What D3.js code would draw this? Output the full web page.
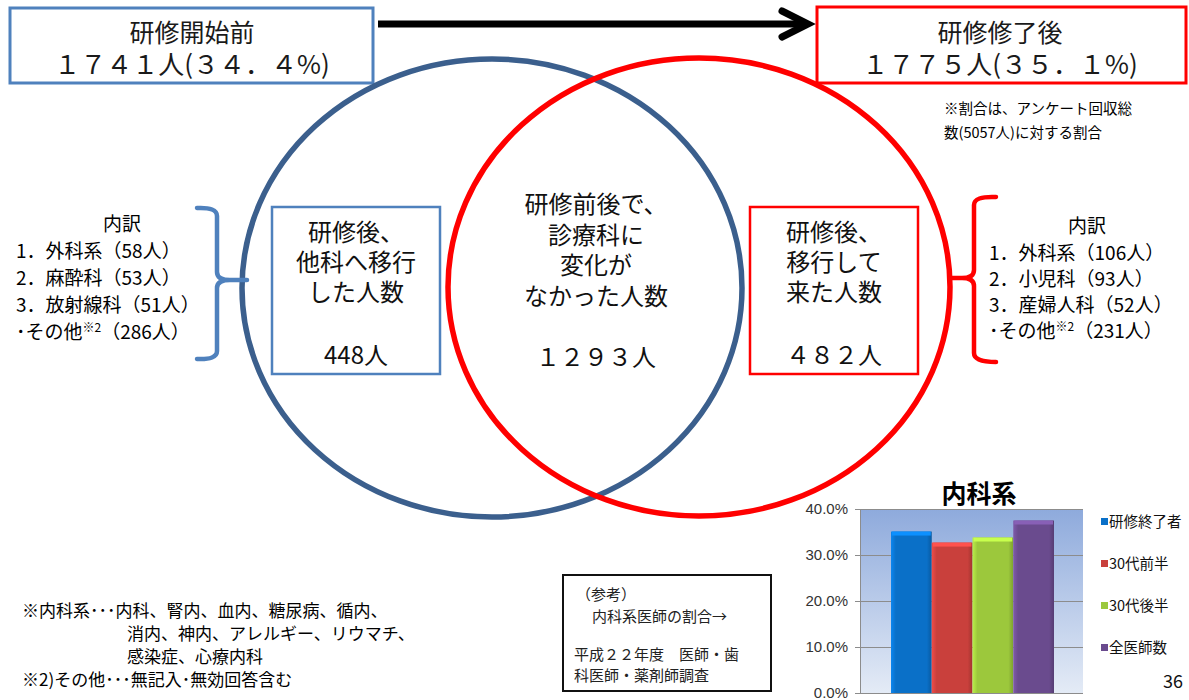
<!DOCTYPE html>
<html>
<head>
<meta charset="utf-8">
<script src="https://cdn.jsdelivr.net/npm/d3@7"></script>
<style>
  html, body { margin: 0; padding: 0; background: #fff; }
  svg { display: block; font-family: "Noto Sans CJK JP", "Noto Sans", sans-serif; }
</style>
</head>
<body>
<svg id="chart" width="1189" height="700"></svg>
<script>
// before / after totals
const setLabels = ["研修開始前", "研修修了後"];
const setCounts = ["１７４１人(３４．４%)", "１７７５人(３５．１%)"];

// venn regions
const movedOutLines = ["研修後、", "他科へ移行", "した人数"];
const movedOutCount = "448人";
const unchangedLines = ["研修前後で、", "診療科に", "変化が", "なかった人数"];
const unchangedCount = "１２９３人";
const movedInLines = ["研修後、", "移行して", "来た人数"];
const movedInCount = "４８２人";

// breakdowns
const outNames = ["1．外科系", "2．麻酔科", "3．放射線科", "･その他"];
const outCounts = [58, 53, 51, 286];
const inNames = ["1．外科系", "2．小児科", "3．産婦人科", "･その他"];
const inCounts = [106, 93, 52, 231];

const noteLines = ["※割合は、アンケート回収総", "数(5057人)に対する割合"];
const footLines = ["※内科系･･･内科、腎内、血内、糖尿病、循内、", "消内、神内、アレルギー、リウマチ、", "感染症、心療内科", "※2)その他･･･無記入･無効回答含む"];
const refLines = ["（参考）", "内科系医師の割合→", "平成２２年度　医師・歯", "科医師・薬剤師調査"];

// small bar chart
const barTitle = "内科系";
const barSeries = ["研修終了者", "30代前半", "30代後半", "全医師数"];
const barValues = [0.351, 0.327, 0.338, 0.375];
const yTicks = [0, 0.1, 0.2, 0.3, 0.4];
const barColors = ["#0a70c8", "#c9403c", "#9cc83c", "#6a4b8e"];

const svg = d3.select("#chart");
const defs = svg.append("defs");

svg.append("rect").attr("width", 1189).attr("height", 700).attr("fill", "#fff");

// --- top boxes ---
const boxes = [
  {x: 10, y: 8, w: 363, h: 75, stroke: "#4f81bd", sw: 3},
  {x: 817, y: 7, w: 369, h: 76, stroke: "#ff0000", sw: 3}
];
boxes.forEach((b, i) => {
  svg.append("rect").attr("x", b.x).attr("y", b.y).attr("width", b.w).attr("height", b.h)
    .attr("fill", "#fff").attr("stroke", b.stroke).attr("stroke-width", b.sw);
  const cx = i === 0 ? 192 : 1000;
  const t = svg.append("text").attr("text-anchor", "middle").attr("fill", "#1a1a1a");
  t.append("tspan").attr("x", cx).attr("y", 42).attr("font-size", 25).text(setLabels[i]);
  t.append("tspan").attr("x", cx).attr("y", 74).attr("font-size", 26).text(setCounts[i]);
});

// arrow
svg.append("line").attr("x1", 378).attr("y1", 24).attr("x2", 806).attr("y2", 24)
  .attr("stroke", "#000").attr("stroke-width", 7);
svg.append("path").attr("d", "M782,11 L808,24 L782,37")
  .attr("fill", "none").attr("stroke", "#000").attr("stroke-width", 7)
  .attr("stroke-linecap", "round").attr("stroke-linejoin", "miter");

// multi-line text as one element
function multiline(lines, xs, y0, step, size, anchor, fill) {
  const t = svg.append("text").attr("font-size", size).attr("fill", fill || "#000")
    .attr("text-anchor", anchor || "start");
  lines.forEach((l, i) => {
    t.append("tspan").attr("x", Array.isArray(xs) ? xs[i] : xs)
      .attr("y", Array.isArray(y0) ? y0[i] : y0 + i * step).text(l);
  });
  return t;
}

// note
multiline(noteLines, 944, 114, 24, 14.5);

// --- venn ellipses ---
const ellipses = [
  {cx: 492, cy: 288, rx: 250, ry: 229, color: "#3b5f8d"},
  {cx: 699, cy: 287, rx: 251, ry: 229, color: "#ff0000"}
];
svg.selectAll("ellipse.venn").data(ellipses).join("ellipse")
  .attr("class", "venn")
  .attr("cx", d => d.cx).attr("cy", d => d.cy)
  .attr("rx", d => d.rx).attr("ry", d => d.ry)
  .attr("fill", "none").attr("stroke", d => d.color).attr("stroke-width", 5.5);

// inner boxes
svg.append("rect").attr("x", 272).attr("y", 207).attr("width", 168).attr("height", 167)
  .attr("fill", "#fff").attr("stroke", "#4f81bd").attr("stroke-width", 2.5);
svg.append("rect").attr("x", 750).attr("y", 207).attr("width", 168).attr("height", 167)
  .attr("fill", "#fff").attr("stroke", "#ff0000").attr("stroke-width", 2.5);

function block(lines, count, cx, y0, step, countY, size) {
  multiline(lines, cx, y0, step, size, "middle", "#111");
  svg.append("text").attr("x", cx).attr("y", countY).attr("text-anchor", "middle")
    .attr("font-size", size).attr("fill", "#111").text(count);
}
block(movedOutLines, movedOutCount, 356, 241, 30, 364, 24);
block(unchangedLines, unchangedCount, 596, 213, 30.5, 366, 24);
block(movedInLines, movedInCount, 834, 241, 30, 364, 24);

// --- brackets ---
svg.append("path")
  .attr("d", "M197,208 Q217,207 217,216 L217,272 Q217,280 230,280 L247,280 M230,280 Q217,280 217,288 L217,351 Q217,360 197,359")
  .attr("fill", "none").attr("stroke", "#4f81bd").attr("stroke-width", 4.5).attr("stroke-linecap", "round");
svg.append("path")
  .attr("d", "M996,197 Q974,196 974,205 L974,270 Q974,278 962,278 L950,278 M962,278 Q974,278 974,286 L974,353 Q974,362 996,362")
  .attr("fill", "none").attr("stroke", "#ff0000").attr("stroke-width", 4.5).attr("stroke-linecap", "round");

// --- breakdown lists ---
function breakdown(names, counts, x, titleX, titleY, y0, step) {
  const t = svg.append("text").attr("font-size", 19).attr("fill", "#000");
  t.append("tspan").attr("x", titleX).attr("y", titleY).attr("text-anchor", "middle").text("内訳");
  names.forEach((n, i) => {
    const first = t.append("tspan").attr("x", x).attr("y", y0 + i * step);
    if (n === "･その他") {
      first.text(n);
      t.append("tspan").attr("font-size", 12).attr("dy", -7).text("※2");
      t.append("tspan").attr("dy", 7).text("（" + counts[i] + "人）");
    } else {
      first.text(n + "（" + counts[i] + "人）");
    }
  });
}
breakdown(outNames, outCounts, 16, 122, 231, 258, 27);
breakdown(inNames, inCounts, 989, 1087, 233, 260, 26);

// --- footnotes ---
multiline(footLines, [22, 127, 127, 22], 617, 23, 17);

// reference box
svg.append("rect").attr("x", 563).attr("y", 575).attr("width", 208).attr("height", 116)
  .attr("fill", "#fff").attr("stroke", "#111").attr("stroke-width", 2);
multiline(refLines, [576, 592, 574, 574], [600, 622, 660, 681], 0, 15, "start", "#222");

// --- bar chart ---
const plot = {x0: 860, x1: 1083, y0: 509, y1: 693};
const y = d3.scaleLinear().domain([0, 0.4]).range([plot.y1, plot.y0]);
const x = d3.scaleBand().domain(barSeries).range([891, 1054]).padding(0);

const bg = defs.append("linearGradient").attr("id", "plotBg")
  .attr("x1", 0).attr("y1", 0).attr("x2", 0).attr("y2", 1);
bg.append("stop").attr("offset", "0%").attr("stop-color", "#8eaadc");
bg.append("stop").attr("offset", "100%").attr("stop-color", "#e4ebf6");

svg.append("rect").attr("x", plot.x0).attr("y", plot.y0)
  .attr("width", plot.x1 - plot.x0).attr("height", plot.y1 - plot.y0)
  .attr("fill", "url(#plotBg)");

const grid = svg.append("g").attr("transform", `translate(${plot.x0},0)`)
  .call(d3.axisLeft(y).tickValues(yTicks).tickSize(-(plot.x1 - plot.x0)).tickFormat(""));
grid.selectAll("line").attr("stroke", "#8c8c8c").attr("stroke-width", 1);
grid.select(".domain").remove();

barColors.forEach((c, i) => {
  const g = defs.append("linearGradient").attr("id", "bar" + i)
    .attr("x1", 0).attr("y1", 0).attr("x2", 1).attr("y2", 0);
  g.append("stop").attr("offset", "0%").attr("stop-color", d3.color(c).brighter(0.5));
  g.append("stop").attr("offset", "12%").attr("stop-color", c);
  g.append("stop").attr("offset", "88%").attr("stop-color", c);
  g.append("stop").attr("offset", "100%").attr("stop-color", d3.color(c).darker(0.6));
});

svg.selectAll("rect.bar").data(barValues).join("rect")
  .attr("class", "bar")
  .attr("x", (d, i) => x(barSeries[i]))
  .attr("y", d => y(d))
  .attr("width", x.bandwidth())
  .attr("height", d => y(0) - y(d))
  .attr("fill", (d, i) => "url(#bar" + i + ")");
svg.selectAll("rect.cap").data(barValues).join("rect")
  .attr("class", "cap")
  .attr("x", (d, i) => x(barSeries[i]) + 1)
  .attr("y", d => y(d))
  .attr("width", x.bandwidth() - 2)
  .attr("height", 4)
  .attr("fill", (d, i) => d3.color(barColors[i]).brighter(0.7));

const yAxis = svg.append("g").attr("transform", `translate(${plot.x0},0)`)
  .call(d3.axisLeft(y).tickValues(yTicks).tickSize(5).tickFormat(d3.format(".1%")));
yAxis.select(".domain").attr("stroke", "#8c8c8c");
yAxis.selectAll("line").attr("stroke", "#8c8c8c");
yAxis.selectAll("text").attr("font-size", 15).attr("fill", "#333")
  .attr("font-family", "'Liberation Sans', sans-serif").attr("x", -12);

svg.append("text").attr("x", 979).attr("y", 503).attr("text-anchor", "middle")
  .attr("font-size", 25).attr("font-weight", "bold").attr("fill", "#000").text(barTitle);

const legend = svg.selectAll("g.leg").data(barSeries).join("g")
  .attr("class", "leg")
  .attr("transform", (d, i) => `translate(1101,${522 + i * 42})`);
legend.append("rect").attr("x", 0).attr("y", -4).attr("width", 7).attr("height", 7)
  .attr("fill", (d, i) => barColors[i]);
legend.append("text").attr("x", 8).attr("y", 5).attr("font-size", 14.5)
  .attr("fill", "#111").text(d => d);

svg.append("text").attr("x", 1163).attr("y", 688).attr("font-size", 18)
  .attr("fill", "#111").text("36");
</script>
</body>
</html>
